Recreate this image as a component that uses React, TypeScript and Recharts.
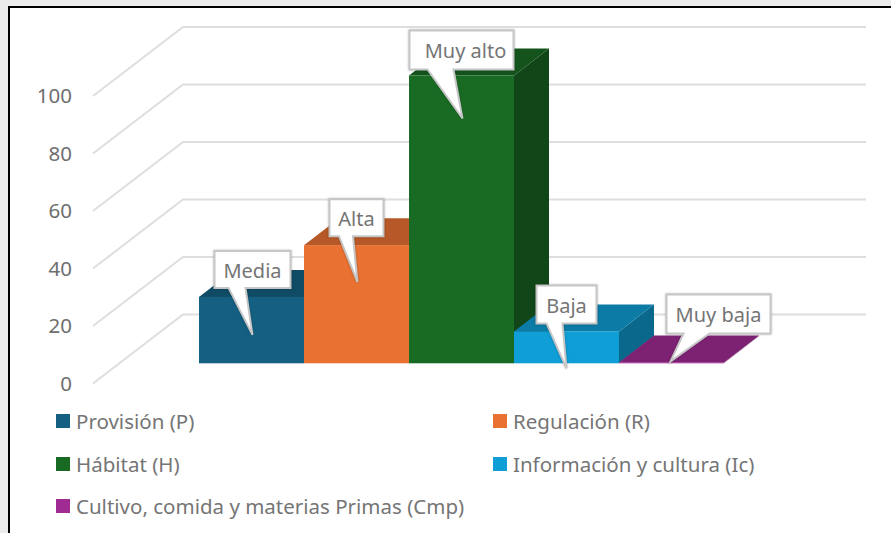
import { BarChart, Bar, XAxis, YAxis, CartesianGrid, Legend, LabelList } from 'recharts';

const seriesKeys = ['P', 'R', 'H', 'Ic', 'Cmp'];
const seriesNames = [
  'Provisión (P)',
  'Regulación (R)',
  'Hábitat (H)',
  'Información y cultura (Ic)',
  'Cultivo, comida y materias Primas (Cmp)',
];
const seriesValues = [23, 41, 100, 11, 0.2];
const levelLabels = ['Media', 'Alta', 'Muy alto', 'Baja', 'Muy baja'];
const seriesColors = ['#156082', '#E97132', '#196B24', '#0F9ED5', '#A02B93'];
const yTicks = [0, 20, 40, 60, 80, 100];

const row: Record<string, number | string> = { name: 'Servicios' };
seriesKeys.forEach((k, i) => {
  row[k] = seriesValues[i];
});
const chartData = [row];

// oblique projection of the Excel 3D chart
const WALL_DX = 90;
const WALL_DY = -69;
const BAR_SHIFT_X = 27; // bars stand 30% into the floor
const BAR_SHIFT_Y = -20.5;
const DEPTH_X = 35;
const DEPTH_Y = -27;

const FONT = '"Noto Sans", sans-serif';

function shade(hex: string, f: number) {
  const n = parseInt(hex.slice(1), 16);
  const r = Math.round(((n >> 16) & 255) * f);
  const g = Math.round(((n >> 8) & 255) * f);
  const b = Math.round((n & 255) * f);
  return `rgb(${r},${g},${b})`;
}

function Bar3D(props: any) {
  const { x, y, width, height, fill } = props;
  const l = x + BAR_SHIFT_X;
  const r = l + width;
  const t = y + BAR_SHIFT_Y;
  const b = t + height;
  const pts = (a: number[][]) => a.map((p) => p.join(',')).join(' ');
  return (
    <g>
      <polygon
        points={pts([[r, t], [r + DEPTH_X, t + DEPTH_Y], [r + DEPTH_X, b + DEPTH_Y], [r, b]])}
        fill={shade(fill, 0.66)}
      />
      <polygon
        points={pts([[l, t], [r, t], [r + DEPTH_X, t + DEPTH_Y], [l + DEPTH_X, t + DEPTH_Y]])}
        fill={shade(fill, 0.78)}
      />
      <rect x={l} y={t} width={width} height={height} fill={fill} />
      <line x1={l} y1={b} x2={r} y2={b} stroke={fill} strokeOpacity={0.6} strokeWidth={1} />
    </g>
  );
}

// callout placement relative to the top-centre of each bar front
const calloutLayout = [
  { rx: -37, ry: -46, w: 76, h: 37, bx0: -23, bx1: -6, tx: 1, ty: 38 },
  { rx: -27, ry: -46, w: 54, h: 37, bx0: -17.5, bx1: -3.5, tx: 1, ty: 37 },
  { rx: -52, ry: -45, w: 104, h: 39, bx0: -34, bx1: -8, tx: 1, ty: 43 },
  { rx: -30, ry: -46, w: 60, h: 38, bx0: -20, bx1: -4, tx: 0, ty: 37 },
  { rx: -5, ry: -68, w: 104, h: 39, bx0: 12, bx1: 38, tx: -1, ty: -1 },
];

function Callout(props: any) {
  const vb = props.viewBox || props;
  const i: number = props.seriesIndex;
  const c = calloutLayout[i];
  const cx = vb.x + BAR_SHIFT_X + vb.width / 2;
  const top = vb.y + BAR_SHIFT_Y;
  const x0 = cx + c.rx;
  const y0 = top + c.ry;
  const x1 = x0 + c.w;
  const y1 = y0 + c.h;
  const d = `M${x0},${y0} L${x1},${y0} L${x1},${y1} L${cx + c.bx1},${y1} L${cx + c.tx},${top + c.ty} L${cx + c.bx0},${y1} L${x0},${y1} Z`;
  return (
    <g>
      <path
        d={d}
        fill="#ffffff"
        stroke="#c6c6c6"
        strokeWidth={2}
        style={{ filter: 'drop-shadow(0 0 1px rgba(0,0,0,0.25))' }}
      />
      <text
        x={(x0 + x1) / 2 + (i === 2 ? 4 : 0)}
        y={(y0 + y1) / 2 + 3}
        textAnchor="middle"
        dominantBaseline="middle"
        fontFamily={FONT}
        fontSize={20}
        fill="#757575"
      >
        {levelLabels[i]}
      </text>
    </g>
  );
}

function gridLine(props: any) {
  const { x1, y1, x2 } = props;
  const bx = x1 + WALL_DX;
  const by = y1 + WALL_DY;
  return (
    <path
      key={props.key ?? y1}
      d={`M${x1},${y1} L${bx},${by} L${x2 + WALL_DX},${by}`}
      fill="none"
      stroke="#dedede"
      strokeWidth={2}
    />
  );
}

function LegendBox(props: any) {
  const items = props.payload || [];
  return (
    <div
      style={{
        position: 'relative',
        height: 141.5,
        fontFamily: FONT,
        fontSize: 20.5,
        color: '#757575',
      }}
    >
      {items.map((it: any, i: number) => (
        <div
          key={it.value}
          style={{
            position: 'absolute',
            left: i % 2 === 0 ? 56 : 493,
            top: 37.5 + Math.floor(i / 2) * 42.5 - 14,
            height: 28,
            lineHeight: '28px',
            whiteSpace: 'nowrap',
            display: 'flex',
            alignItems: 'center',
          }}
        >
          <span style={{ width: 14, height: 14, background: it.color, marginRight: 6, display: 'inline-block' }} />
          {it.value}
        </div>
      ))}
    </div>
  );
}

export default function App() {
  return (
    <div
      style={{
        position: 'absolute',
        left: 0,
        top: 0,
        width: 891,
        height: 533,
        overflow: 'hidden',
        background: '#ececec',
      }}
    >
      <div
        style={{
          position: 'absolute',
          left: 8,
          top: 6,
          width: 883,
          height: 527,
          background: '#ffffff',
          borderLeft: '2px solid #000',
          borderTop: '2.5px solid #000',
          boxSizing: 'border-box',
        }}
      />
      <div style={{ position: 'absolute', left: 0, top: 0 }}>
        <BarChart
          width={891}
          height={533}
          data={chartData}
          barGap={0}
          barCategoryGap={79}
          margin={{ top: 96, right: 115, bottom: 8, left: 0 }}
        >
          <CartesianGrid horizontal={gridLine} vertical={false} />
          <XAxis dataKey="name" hide />
          <YAxis
            domain={[0, 100]}
            ticks={yTicks}
            width={93}
            axisLine={false}
            tickLine={false}
            tickSize={0}
            tickMargin={21}
            interval={0}
            tick={{ fontFamily: FONT, fontSize: 20.5, fill: '#6e6e6e' }}
          />
          <Legend
            verticalAlign="bottom"
            itemSorter={null}
            content={<LegendBox />}
            wrapperStyle={{ left: 0, width: 891 }}
          />
          {seriesKeys.map((k, i) => (
            <Bar
              key={k}
              dataKey={k}
              name={seriesNames[i]}
              fill={seriesColors[i]}
              shape={<Bar3D />}
              isAnimationActive={false}
            >
              <LabelList dataKey={k} content={<Callout seriesIndex={i} />} />
            </Bar>
          ))}
        </BarChart>
      </div>
    </div>
  );
}
